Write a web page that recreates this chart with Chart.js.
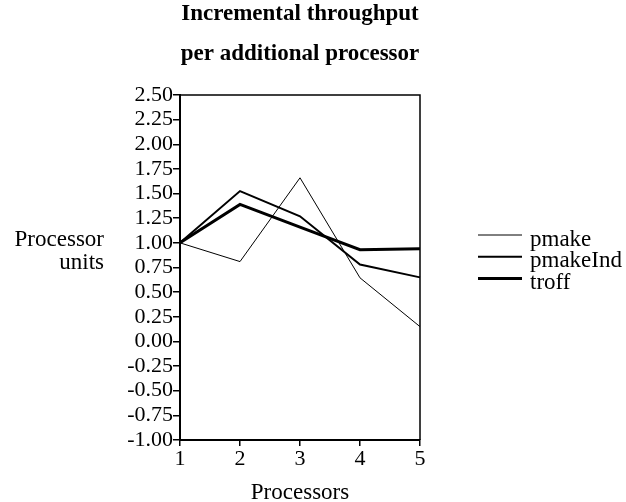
<!DOCTYPE html>
<html><head><meta charset="utf-8">
<script src="https://cdn.jsdelivr.net/npm/chart.js@4"></script>
<style>html,body{margin:0;padding:0;background:#fff}#wrap{width:626px;height:502px}</style>
</head><body><div id="wrap"><canvas id="c" width="626" height="502"></canvas></div>
<script>
const categories = ['1','2','3','4','5'];
const pmake = [1.00, 0.81, 1.66, 0.645, 0.15];
const pmakeInd = [1.00, 1.525, 1.27, 0.78, 0.65];
const troff = [1.00, 1.39, 1.16, 0.93, 0.94];
const seriesNames = ['pmake','pmakeInd','troff'];
const titleLines = ['Incremental throughput','per additional processor'];
const yTitleLines = ['Processor','units'];
const xTitle = 'Processors';

const FONT = '"Liberation Serif", "Times New Roman", serif';

const extras = {
  id: 'extras',
  afterDraw(chart) {
    const ctx = chart.ctx, a = chart.chartArea;
    ctx.save();
    ctx.strokeStyle = '#000'; ctx.lineWidth = 1.5;
    ctx.beginPath();
    ctx.moveTo(a.left, a.top); ctx.lineTo(a.right, a.top); ctx.lineTo(a.right, a.bottom);
    ctx.stroke();
    ctx.fillStyle = '#000';
    ctx.textBaseline = 'alphabetic';
    ctx.font = 'bold 23px ' + FONT;
    ctx.textAlign = 'center';
    const cx = (a.left + a.right) / 2;
    ctx.fillText(titleLines[0], cx, 20);
    ctx.fillText(titleLines[1], cx, 60);
    ctx.font = '23px ' + FONT;
    ctx.textAlign = 'right';
    ctx.fillText(yTitleLines[0], 104, 246);
    ctx.fillText(yTitleLines[1], 104, 269);
    ctx.textAlign = 'center';
    ctx.fillText(xTitle, cx, 499);
    ctx.textAlign = 'left';
    chart.data.datasets.forEach((ds, i) => {
      const y = 235 + i * 21.7;
      ctx.strokeStyle = ds.borderColor; ctx.lineWidth = ds.borderWidth;
      ctx.beginPath(); ctx.moveTo(478, y); ctx.lineTo(522, y); ctx.stroke();
      ctx.fillStyle = '#000';
      ctx.fillText(ds.label, 530, y + 10.5);
    });
    ctx.restore();
  }
};

new Chart(document.getElementById('c'), {
  type: 'line',
  data: {
    labels: categories,
    datasets: [
      {label: seriesNames[0], data: pmake, borderColor: '#000', borderWidth: 1},
      {label: seriesNames[1], data: pmakeInd, borderColor: '#000', borderWidth: 2},
      {label: seriesNames[2], data: troff, borderColor: '#000', borderWidth: 3}
    ]
  },
  options: {
    responsive: false, animation: false,
    layout: {padding: {left: 0, right: 206, top: 95, bottom: 32}},
    elements: {point: {radius: 0}, line: {tension: 0}},
    plugins: {legend: {display: false}, title: {display: false}, tooltip: {enabled: false}},
    scales: {
      x: {
        type: 'category', offset: false,
        grid: {drawOnChartArea: false, drawTicks: true, tickLength: 6, color: '#000', lineWidth: 1.5},
        border: {color: '#000', width: 2},
        ticks: {color: '#000', font: {family: FONT, size: 22}, padding: 0, maxRotation: 0},
        afterFit(s) { s.height = 30; }
      },
      y: {
        min: -1, max: 2.5,
        grid: {drawOnChartArea: false, drawTicks: true, tickLength: 7, color: '#000', lineWidth: 1.5},
        border: {color: '#000', width: 2},
        ticks: {stepSize: 0.25, color: '#000', font: {family: FONT, size: 22}, padding: 0,
          autoSkip: false, callback: v => v.toFixed(2)},
        afterFit(s) { s.width = 180; }
      }
    }
  },
  plugins: [extras]
});
</script></body></html>
